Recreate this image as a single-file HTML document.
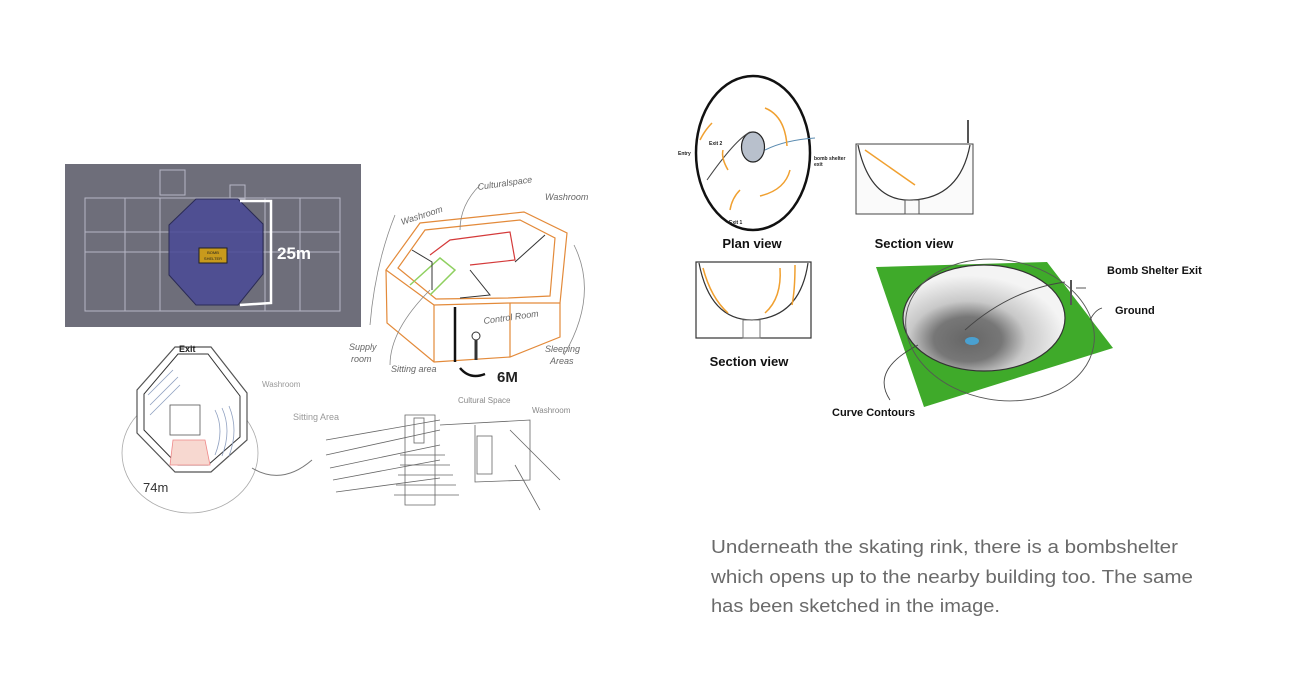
<!DOCTYPE html>
<html><head><meta charset="utf-8"><style>
html,body{margin:0;padding:0;background:#fff;}
svg{display:block;}
text{font-family:"Liberation Sans",sans-serif;}
</style></head><body>
<svg width="1295" height="684" viewBox="0 0 1295 684" xmlns="http://www.w3.org/2000/svg">
<rect x="65" y="164" width="296" height="163" fill="#6e6e7a"/>
<g stroke="#c8c8d8" stroke-width="1" fill="none" opacity="0.8">
<rect x="85" y="198" width="255" height="113"/>
<line x1="85" y1="252" x2="340" y2="252"/>
<line x1="85" y1="232" x2="340" y2="232"/>
<line x1="125" y1="198" x2="125" y2="311"/>
<line x1="300" y1="198" x2="300" y2="311"/>
<line x1="160" y1="198" x2="160" y2="311"/>
<line x1="265" y1="198" x2="265" y2="311"/>
<rect x="160" y="170" width="25" height="25"/>
<rect x="230" y="185" width="15" height="14"/>
</g>
<polygon points="196,199 238,199 263,224 263,274 238,305 196,305 169,275 169,225" fill="#4a4a96" fill-opacity="0.85" stroke="#2b2b55"/>
<rect x="199" y="248" width="28" height="15" fill="#c89a1c" stroke="#222"/>
<text x="213" y="254" font-size="4" text-anchor="middle" fill="#222">BOMB</text>
<text x="213" y="260" font-size="4" text-anchor="middle" fill="#222">SHELTER</text>
<polyline points="240,201 271,201 271,303 240,305" fill="none" stroke="#fff" stroke-width="2.5"/>
<text x="277" y="259" font-size="17" font-weight="bold" fill="#fff">25m</text>

<g fill="none" stroke="#e38a3a" stroke-width="1.2">
<polygon points="386,270 420,223 524,212 567,233 560,303 510,303 434,305"/>
<polygon points="398,268 425,230 520,220 555,238 550,296 508,298 436,299"/>
<polyline points="386,270 387,323 434,362 510,357 560,337 560,303"/>
<line x1="434" y1="305" x2="434" y2="362"/>
<line x1="510" y1="303" x2="510" y2="357"/>
</g>
<g fill="none" stroke="#d43a3a" stroke-width="1.2">
<polyline points="430,255 450,240 510,232 515,260 470,265"/>
</g>
<g fill="none" stroke="#8fd060" stroke-width="1.5"><polyline points="410,285 440,258 455,270 430,295"/></g>
<g fill="none" stroke="#333" stroke-width="1">
<polyline points="412,250 432,262 432,290"/>
<polyline points="470,270 490,295 460,298"/>
<polyline points="515,262 545,235"/>
</g>
<line x1="455" y1="307" x2="455" y2="362" stroke="#111" stroke-width="2.5"/>
<path d="M460 368 q10 12 25 6" stroke="#111" stroke-width="2.5" fill="none"/>
<text x="497" y="382" font-size="15" font-weight="bold" fill="#222">6M</text>
<circle cx="476" cy="336" r="4" fill="none" stroke="#333"/>
<line x1="476" y1="340" x2="476" y2="360" stroke="#333" stroke-width="3"/>
<g font-size="9" fill="#666" font-style="italic">
<text x="402" y="225" transform="rotate(-18 402 225)">Washroom</text>
<text x="478" y="190" transform="rotate(-8 478 190)">Culturalspace</text>
<text x="545" y="200">Washroom</text>
<text x="484" y="324" transform="rotate(-8 484 324)">Control Room</text>
<text x="349" y="350">Supply</text><text x="351" y="362">room</text>
<text x="391" y="372">Sitting area</text>
<text x="545" y="352">Sleeping</text><text x="550" y="364">Areas</text>
</g>
<g fill="none" stroke="#888" stroke-width="0.8">
<path d="M395 215 q-20 50 -25 110"/>
<path d="M430 290 q-40 40 -40 75"/>
<path d="M574 245 q25 50 -10 110"/>
<path d="M480 185 q-20 20 -20 45"/>
</g>

<ellipse cx="190" cy="453" rx="68" ry="60" fill="none" stroke="#aaa" stroke-width="0.8"/>
<polygon points="175,347 211,347 247,393 247,440 211,472 175,472 137,433 137,390" fill="#fff" stroke="#555" stroke-width="1.2"/>
<polygon points="178,354 208,354 240,396 240,437 208,465 178,465 144,430 144,394" fill="none" stroke="#333" stroke-width="1"/>
<g stroke="#8fa0c0" stroke-width="0.8" fill="none">
<path d="M148 395 l25 -25 M150 405 l28 -28 M150 415 l30 -30"/>
<path d="M215 410 q10 20 0 45 M222 408 q10 22 0 48 M229 406 q10 24 0 50"/>
</g>
<polygon points="173,440 205,440 210,465 170,465" fill="#f7d8d0" stroke="#e88" stroke-width="0.8"/>
<rect x="170" y="405" width="30" height="30" fill="none" stroke="#555" stroke-width="0.8"/>
<text x="179" y="352" font-size="9" font-weight="bold" fill="#222">Exit</text>
<text x="143" y="492" font-size="13" fill="#333">74m</text>
<text x="262" y="387" font-size="8" fill="#999">Washroom</text>
<text x="293" y="420" font-size="9" fill="#999">Sitting Area</text>
<path d="M252 468 q30 18 60 -8" fill="none" stroke="#777"/>

<g fill="none" stroke="#666" stroke-width="0.8">
<path d="M326 440 L440 420 M326 455 L440 430 M330 468 L440 445 M333 480 L440 460 M336 492 L440 478"/>
<path d="M405 415 h30 v90 h-30 z"/>
<path d="M400 455 h45 M400 465 h50 M398 475 h55 M396 485 h60 M394 495 h65"/>
<rect x="414" y="418" width="10" height="25"/>
<path d="M440 425 L530 420 L530 480 L475 482 L475 425"/>
<rect x="477" y="436" width="15" height="38"/>
<path d="M510 430 L560 480 M515 465 L540 510"/>
</g>
<g font-size="8" fill="#888"><text x="458" y="403">Cultural Space</text><text x="532" y="413">Washroom</text></g>

<ellipse cx="753" cy="153" rx="57" ry="77" fill="none" stroke="#111" stroke-width="2.5"/>
<ellipse cx="753" cy="147" rx="11.5" ry="15" fill="#b8c0cc" stroke="#222" stroke-width="1.2"/>
<path d="M707 180 Q735 140 750 132" fill="none" stroke="#444"/>
<path d="M765 150 Q785 140 815 138" fill="none" stroke="#5a8bb0"/>
<g fill="none" stroke="#f0a030" stroke-width="1.5">
<path d="M765 108 q20 8 22 38"/><path d="M790 170 q-5 20 -30 26"/><path d="M740 190 q-8 8 -10 20"/><path d="M700 140 q5 -10 12 -17"/><path d="M723 150 q-2 8 5 20"/>
</g>
<g font-size="5" font-weight="bold" fill="#222"><text x="678" y="155">Entry</text><text x="709" y="145">Exit 2</text><text x="814" y="160">bomb shelter</text><text x="814" y="166">exit</text><text x="729" y="224">Exit 1</text></g>
<text x="752" y="248" font-size="13" font-weight="bold" fill="#111" text-anchor="middle">Plan view</text>

<rect x="856" y="144" width="117" height="70" fill="#fafafa" stroke="#444"/>
<path d="M858 145 Q870 202 912 200 Q960 198 970 145" fill="#fff" stroke="#333" stroke-width="1.2"/>
<rect x="905" y="200" width="14" height="14" fill="none" stroke="#555"/>
<line x1="968" y1="120" x2="968" y2="143" stroke="#555" stroke-width="2"/>
<path d="M865 150 l50 35" stroke="#f0a030" stroke-width="1.5" fill="none"/>
<text x="914" y="248" font-size="13" font-weight="bold" fill="#111" text-anchor="middle">Section view</text>

<rect x="696" y="262" width="115" height="76" fill="#fff" stroke="#333" stroke-width="1.2"/>
<path d="M699 263 Q710 320 752 320 Q800 318 808 263" fill="none" stroke="#333" stroke-width="1.2"/>
<rect x="743" y="320" width="17" height="18" fill="none" stroke="#777"/>
<g fill="none" stroke="#f0a030" stroke-width="1.5"><path d="M703 268 q8 30 25 45"/><path d="M780 268 q2 30 -15 45"/><path d="M795 265 q0 25 -3 40"/></g>
<text x="749" y="366" font-size="13" font-weight="bold" fill="#111" text-anchor="middle">Section view</text>

<polygon points="876,267 1047,262 1113,348 924,407" fill="#3faa2a"/>
<defs><radialGradient id="g" cx="0.4" cy="0.7" r="0.6"><stop offset="0" stop-color="#666"/><stop offset="0.35" stop-color="#777"/><stop offset="0.6" stop-color="#c8c8c8"/><stop offset="1" stop-color="#f4f4f4"/></radialGradient></defs>
<ellipse cx="984" cy="318" rx="81" ry="53" fill="url(#g)" stroke="#333" stroke-width="1.2"/>
<ellipse cx="972" cy="341" rx="7" ry="4" fill="#4aa0d0"/>
<g fill="none" stroke="#444" stroke-width="0.9">
<path d="M965 330 Q1010 290 1065 282"/><path d="M1076 288 l10 0"/>
<path d="M918 345 Q870 370 890 400"/>
<ellipse cx="1000" cy="330" rx="95" ry="70" transform="rotate(10 1000 330)" stroke="#555"/>
<path d="M1090 320 q5 -10 12 -12"/>
</g>
<line x1="1071" y1="280" x2="1071" y2="305" stroke="#555" stroke-width="2"/>
<g font-size="11" font-weight="bold" fill="#111"><text x="1107" y="274">Bomb Shelter Exit</text><text x="1115" y="314">Ground</text><text x="832" y="416">Curve Contours</text></g>

<g font-size="18" fill="#6a6a6a">
<text x="711" y="553" textLength="467" lengthAdjust="spacingAndGlyphs">Underneath the skating rink, there is a bombshelter</text>
<text x="711" y="583" textLength="482" lengthAdjust="spacingAndGlyphs">which opens up to the nearby building too. The same</text>
<text x="711" y="612" textLength="289" lengthAdjust="spacingAndGlyphs">has been sketched in the image.</text>
</g>
</svg>
</body></html>
